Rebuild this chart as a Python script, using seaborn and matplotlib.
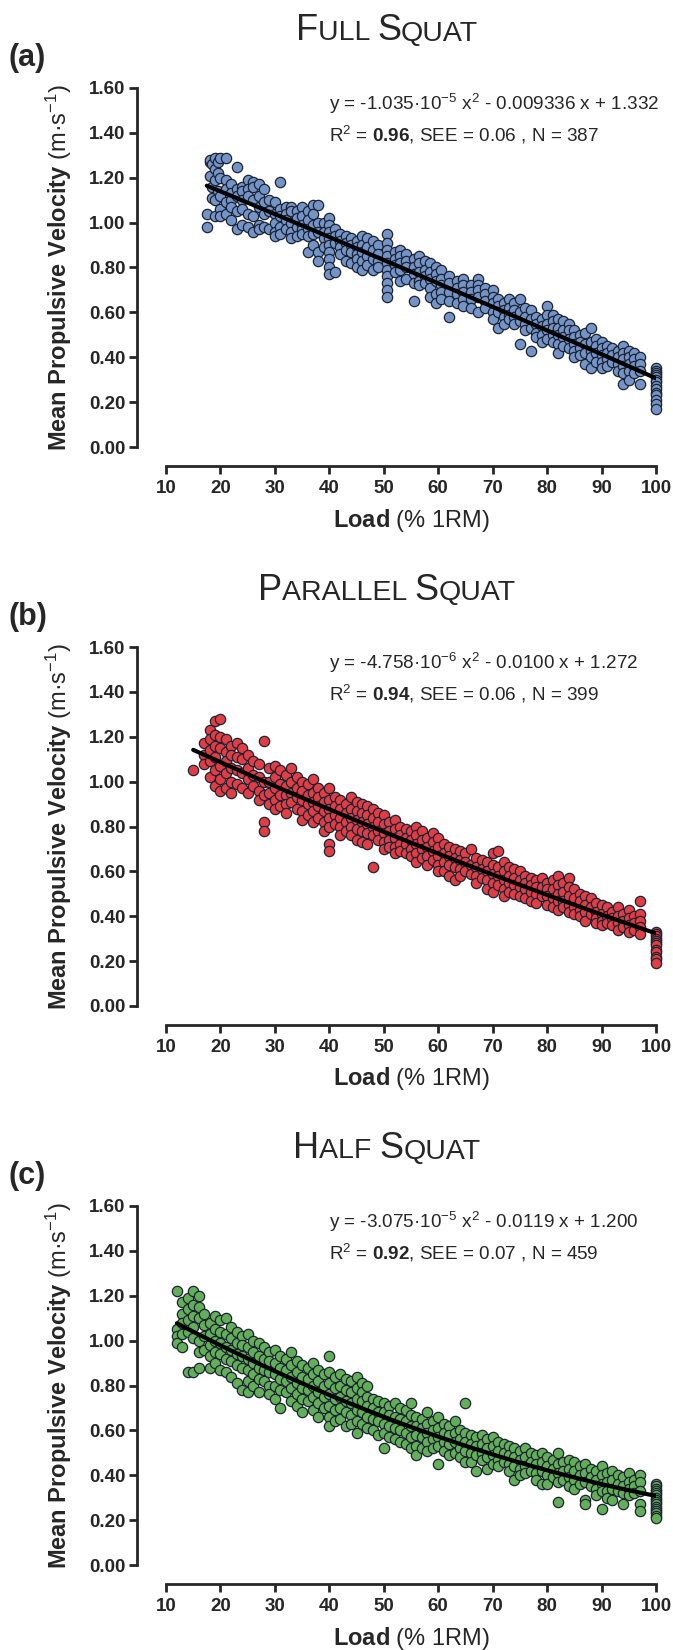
import numpy as np
import pandas as pd
import matplotlib
matplotlib.use("Agg")
import matplotlib.pyplot as plt
import seaborn as sns
from matplotlib.offsetbox import TextArea, HPacker, AnnotationBbox

# load (% 1RM) -> mean propulsive velocities
full_rows = [
    (17.5, [1.04, 0.98]), (18.0, [1.27, 1.28, 1.21]), (18.5, [1.26, 1.16, 1.11]),
    (19.0, [1.29, 1.24, 1.19, 1.10, 1.03]), (19.5, [1.27, 1.22, 1.14]),
    (20.0, [1.29, 1.20, 1.12, 1.06, 1.03]), (21.0, [1.29, 1.19, 1.15, 1.09, 1.04]),
    (22.0, [1.17, 1.13, 1.10, 1.07, 1.01]), (23.0, [1.25, 1.15, 1.12, 1.05, 0.97]),
    (24.0, [1.16, 1.14, 1.10, 1.06, 0.99]), (25.0, [1.19, 1.15, 1.12, 1.04, 0.98]),
    (26.0, [1.18, 1.16, 1.10, 1.03, 0.96]), (27.0, [1.17, 1.12, 1.07, 0.99, 0.97]),
    (28.0, [1.15, 1.09, 1.04, 0.98]), (29.0, [1.10, 1.05, 0.97]),
    (30.0, [1.09, 1.04, 1.00, 0.96, 0.94]), (31.0, [1.18, 1.06, 1.03, 0.98, 0.95]),
    (32.0, [1.07, 1.04, 1.01, 0.97]), (33.0, [1.07, 1.05, 1.00, 0.96, 0.93]),
    (34.0, [1.05, 1.02, 0.98, 0.94]), (35.0, [1.07, 1.03, 0.99, 0.97, 0.95]),
    (36.0, [1.05, 1.01, 0.97, 0.94, 0.87]), (37.0, [1.08, 1.04, 0.99, 0.95, 0.90]),
    (38.0, [1.08, 1.00, 0.96, 0.87, 0.83]), (39.0, [1.00, 0.96, 0.93, 0.89]),
    (40.0, [1.02, 0.99, 0.96, 0.93, 0.90, 0.87, 0.84, 0.80, 0.77]),
    (41.0, [0.97, 0.94, 0.91, 0.78]), (42.0, [0.95, 0.92, 0.89, 0.86]),
    (43.0, [0.94, 0.91, 0.88, 0.83]), (44.0, [0.93, 0.90, 0.87, 0.82]),
    (45.0, [0.92, 0.89, 0.86, 0.84, 0.80]), (46.0, [0.94, 0.90, 0.87, 0.83, 0.79]),
    (47.0, [0.93, 0.89, 0.85, 0.81]), (48.0, [0.92, 0.88, 0.84, 0.79]),
    (49.0, [0.90, 0.86, 0.83, 0.80]),
    (50.5, [0.95, 0.91, 0.88, 0.85, 0.82, 0.79, 0.76, 0.73, 0.70, 0.67]),
    (52.0, [0.87, 0.84, 0.81, 0.78]), (53.0, [0.88, 0.85, 0.82, 0.79, 0.74]),
    (54.0, [0.86, 0.83, 0.80, 0.75]), (55.5, [0.84, 0.80, 0.77, 0.73, 0.65]),
    (56.5, [0.85, 0.82, 0.78, 0.74, 0.72]), (57.5, [0.83, 0.79, 0.76, 0.73]),
    (58.5, [0.82, 0.78, 0.75, 0.71, 0.67]), (59.5, [0.80, 0.77, 0.74, 0.68, 0.64]),
    (60.5, [0.79, 0.75, 0.72, 0.69, 0.66]), (62.0, [0.76, 0.73, 0.69, 0.65, 0.58]),
    (63.5, [0.74, 0.71, 0.68, 0.64]), (64.5, [0.75, 0.72, 0.69, 0.66, 0.63]),
    (66.0, [0.72, 0.69, 0.66, 0.62]), (67.3, [0.75, 0.72, 0.70, 0.67, 0.60]),
    (68.5, [0.71, 0.68, 0.65, 0.62]), (70.0, [0.70, 0.67, 0.64, 0.60, 0.57]),
    (71.0, [0.66, 0.63, 0.60, 0.53]), (72.0, [0.64, 0.61, 0.58, 0.55]),
    (73.0, [0.66, 0.62, 0.59, 0.57]), (74.0, [0.64, 0.61, 0.58, 0.55]),
    (75.0, [0.66, 0.60, 0.56, 0.46]), (76.0, [0.62, 0.58, 0.55, 0.52]),
    (77.0, [0.61, 0.57, 0.53, 0.43]), (78.0, [0.58, 0.55, 0.51, 0.49]),
    (79.0, [0.57, 0.54, 0.50, 0.47]), (80.0, [0.63, 0.59, 0.55, 0.52, 0.48]),
    (81.0, [0.59, 0.56, 0.53, 0.50, 0.47]), (82.0, [0.57, 0.53, 0.50, 0.46, 0.42]),
    (83.0, [0.56, 0.52, 0.49, 0.45]), (84.0, [0.55, 0.52, 0.48, 0.44]),
    (85.0, [0.52, 0.49, 0.46, 0.43, 0.40]), (86.0, [0.50, 0.47, 0.44, 0.41]),
    (87.0, [0.51, 0.46, 0.42, 0.37]), (88.0, [0.53, 0.47, 0.43, 0.40, 0.35]),
    (89.0, [0.48, 0.45, 0.42, 0.38]), (90.0, [0.47, 0.44, 0.41, 0.38, 0.35]),
    (91.0, [0.45, 0.42, 0.39, 0.36]), (92.0, [0.44, 0.41, 0.38]),
    (93.0, [0.43, 0.40, 0.37, 0.34]), (94.0, [0.45, 0.42, 0.39, 0.36, 0.33, 0.28]),
    (95.0, [0.43, 0.40, 0.37, 0.34, 0.30]), (96.0, [0.42, 0.39, 0.36, 0.33]),
    (97.0, [0.40, 0.37, 0.34, 0.28]),
    (100.0, [0.35, 0.34, 0.33, 0.32, 0.31, 0.30, 0.29, 0.27, 0.26, 0.24, 0.23, 0.21, 0.19, 0.17]),
]

parallel_rows = [
    (15.0, [1.05]), (17.0, [1.17, 1.12, 1.08]), (18.0, [1.23, 1.19, 1.14, 1.09, 1.02]),
    (19.0, [1.27, 1.21, 1.16, 1.11, 1.05, 0.98]), (20.0, [1.28, 1.20, 1.15, 1.07, 1.01, 0.96]),
    (21.0, [1.19, 1.13, 1.09, 1.04, 0.97]), (22.0, [1.16, 1.12, 1.06, 1.00, 0.95]),
    (23.0, [1.17, 1.11, 1.05, 0.99]), (24.0, [1.15, 1.10, 1.04, 0.97]),
    (25.0, [1.12, 1.06, 1.01, 0.95]), (26.0, [1.09, 1.03, 0.98]),
    (27.0, [1.08, 1.02, 0.96, 0.92]), (28.0, [1.18, 1.00, 0.94, 0.82, 0.78]),
    (29.0, [1.06, 1.00, 0.95, 0.90]), (30.0, [1.07, 1.02, 0.97, 0.92, 0.88]),
    (31.0, [1.05, 0.99, 0.94, 0.89]), (32.0, [1.03, 0.98, 0.94, 0.90, 0.86]),
    (33.0, [1.06, 1.00, 0.95, 0.91]), (34.0, [1.02, 0.97, 0.93, 0.88]),
    (35.0, [1.00, 0.96, 0.92, 0.87, 0.83]), (36.0, [0.99, 0.94, 0.90, 0.85]),
    (37.0, [1.01, 0.95, 0.91, 0.87, 0.82]), (38.0, [0.97, 0.93, 0.89, 0.84]),
    (39.0, [0.95, 0.91, 0.87, 0.82, 0.78]), (40.0, [0.97, 0.92, 0.88, 0.84, 0.80, 0.72, 0.69]),
    (41.0, [0.93, 0.89, 0.85, 0.81]), (42.0, [0.92, 0.88, 0.84, 0.80, 0.76]),
    (43.0, [0.90, 0.86, 0.82, 0.78]), (44.0, [0.93, 0.88, 0.84, 0.80, 0.76]),
    (45.0, [0.91, 0.87, 0.83, 0.79, 0.74]), (46.0, [0.90, 0.86, 0.82, 0.78, 0.73]),
    (47.0, [0.89, 0.85, 0.81, 0.77, 0.72]), (48.0, [0.88, 0.84, 0.80, 0.76, 0.62]),
    (49.0, [0.86, 0.82, 0.78, 0.74]), (50.0, [0.85, 0.81, 0.77, 0.73, 0.70]),
    (51.0, [0.82, 0.78, 0.74, 0.71]), (52.0, [0.83, 0.79, 0.75, 0.71, 0.68]),
    (53.0, [0.80, 0.76, 0.72, 0.69]), (54.0, [0.79, 0.75, 0.72, 0.68]),
    (55.0, [0.78, 0.74, 0.70, 0.67]), (56.0, [0.80, 0.76, 0.72, 0.68, 0.64]),
    (57.0, [0.78, 0.74, 0.70, 0.66]), (58.0, [0.75, 0.71, 0.67, 0.63]),
    (59.0, [0.77, 0.73, 0.69, 0.65]), (60.0, [0.75, 0.71, 0.67, 0.63, 0.60]),
    (61.0, [0.72, 0.68, 0.64, 0.60]), (62.0, [0.71, 0.67, 0.63, 0.58]),
    (63.0, [0.70, 0.66, 0.62, 0.56]), (64.0, [0.69, 0.65, 0.61, 0.58]),
    (65.0, [0.68, 0.64, 0.60]), (66.0, [0.70, 0.63, 0.59]),
    (67.0, [0.66, 0.62, 0.58, 0.55]), (68.0, [0.65, 0.61, 0.57]),
    (69.0, [0.64, 0.60, 0.56, 0.52]), (70.0, [0.68, 0.63, 0.59, 0.55, 0.51]),
    (71.0, [0.69, 0.62, 0.58, 0.54]), (72.0, [0.64, 0.60, 0.56, 0.52, 0.49]),
    (73.0, [0.62, 0.58, 0.55, 0.51]), (74.0, [0.61, 0.57, 0.54, 0.50]),
    (75.0, [0.60, 0.56, 0.53, 0.49]), (76.0, [0.58, 0.55, 0.52, 0.48]),
    (77.0, [0.57, 0.54, 0.51, 0.47]), (78.0, [0.56, 0.53, 0.50, 0.46]),
    (79.0, [0.57, 0.53, 0.49]), (80.0, [0.55, 0.52, 0.49, 0.45]),
    (81.0, [0.56, 0.52, 0.48, 0.44]), (82.0, [0.58, 0.54, 0.50, 0.47, 0.43]),
    (83.0, [0.55, 0.51, 0.47, 0.44]), (84.0, [0.57, 0.53, 0.49, 0.45, 0.42]),
    (85.0, [0.52, 0.48, 0.44, 0.41]), (86.0, [0.50, 0.47, 0.43, 0.40]),
    (87.0, [0.49, 0.45, 0.42, 0.38]), (88.0, [0.48, 0.44, 0.41]),
    (89.0, [0.46, 0.42, 0.39, 0.37]), (90.0, [0.45, 0.41, 0.38, 0.36]),
    (91.0, [0.44, 0.40, 0.37]), (92.0, [0.42, 0.39, 0.36]),
    (93.0, [0.44, 0.40, 0.37, 0.34]), (94.0, [0.41, 0.38, 0.35]),
    (95.0, [0.43, 0.39, 0.36, 0.33]), (96.0, [0.40, 0.37, 0.34]),
    (97.0, [0.47, 0.41, 0.38, 0.35, 0.32]),
    (100.0, [0.33, 0.32, 0.31, 0.30, 0.29, 0.28, 0.27, 0.25, 0.24, 0.22, 0.21, 0.19]),
]

half_rows = [
    (12.0, [1.22, 1.05, 1.02, 0.99]), (13.0, [1.17, 1.12, 1.08, 1.03, 0.97]),
    (14.0, [1.19, 1.14, 1.09, 1.04, 0.86]), (15.0, [1.22, 1.16, 1.11, 1.06, 1.01, 0.86]),
    (16.0, [1.20, 1.15, 1.10, 1.00, 0.95, 0.88]), (17.0, [1.12, 1.07, 1.02, 0.96]),
    (18.0, [1.08, 1.03, 0.98, 0.93, 0.88]), (19.0, [1.11, 1.05, 1.00, 0.95, 0.90]),
    (20.0, [1.09, 1.04, 0.99, 0.94, 0.87]), (21.0, [1.10, 1.03, 0.97, 0.92, 0.86]),
    (22.0, [1.06, 1.01, 0.96, 0.91, 0.84]), (23.0, [1.04, 0.99, 0.94, 0.89, 0.81]),
    (24.0, [1.02, 0.98, 0.93, 0.88, 0.78]), (25.0, [1.03, 0.97, 0.92, 0.87, 0.82, 0.77]),
    (26.0, [1.00, 0.95, 0.90, 0.85, 0.80]), (27.0, [0.99, 0.93, 0.88, 0.83, 0.77]),
    (28.0, [0.97, 0.92, 0.87, 0.82]), (29.0, [0.95, 0.91, 0.86, 0.80, 0.76]),
    (30.0, [0.96, 0.90, 0.85, 0.80, 0.74]), (31.0, [0.93, 0.88, 0.83, 0.78, 0.70]),
    (32.0, [0.92, 0.87, 0.82, 0.77]), (33.0, [0.95, 0.89, 0.84, 0.79, 0.73]),
    (34.0, [0.91, 0.86, 0.81, 0.76, 0.71]), (35.0, [0.89, 0.84, 0.79, 0.74, 0.68]),
    (36.0, [0.88, 0.83, 0.78, 0.73]), (37.0, [0.90, 0.85, 0.80, 0.75, 0.69]),
    (38.0, [0.87, 0.82, 0.77, 0.72, 0.66]), (39.0, [0.85, 0.80, 0.75, 0.70]),
    (40.0, [0.93, 0.86, 0.81, 0.76, 0.71, 0.66, 0.62]), (41.0, [0.84, 0.79, 0.74, 0.69, 0.64]),
    (42.0, [0.85, 0.80, 0.75, 0.70, 0.65]), (43.0, [0.83, 0.78, 0.73, 0.68, 0.62]),
    (44.0, [0.82, 0.77, 0.72, 0.67, 0.63]), (45.0, [0.84, 0.79, 0.74, 0.69, 0.64, 0.59]),
    (46.0, [0.81, 0.77, 0.73, 0.68, 0.63]), (47.0, [0.80, 0.75, 0.71, 0.66, 0.61]),
    (48.0, [0.74, 0.70, 0.65, 0.60]), (49.0, [0.73, 0.68, 0.64, 0.58]),
    (50.0, [0.72, 0.68, 0.63, 0.59, 0.52]), (51.0, [0.71, 0.67, 0.62, 0.57]),
    (52.0, [0.72, 0.66, 0.61, 0.56]), (53.0, [0.70, 0.65, 0.60, 0.55]),
    (54.0, [0.69, 0.64, 0.59, 0.54]), (55.0, [0.72, 0.67, 0.62, 0.57, 0.52]),
    (56.0, [0.66, 0.62, 0.58, 0.53, 0.49]), (57.0, [0.65, 0.61, 0.57, 0.52]),
    (58.0, [0.68, 0.63, 0.59, 0.55, 0.51]), (59.0, [0.64, 0.60, 0.56, 0.52]),
    (60.0, [0.66, 0.61, 0.57, 0.53, 0.45]), (61.0, [0.63, 0.59, 0.55, 0.51]),
    (62.0, [0.62, 0.58, 0.54, 0.49]), (63.0, [0.64, 0.59, 0.55, 0.50]),
    (64.0, [0.60, 0.56, 0.52, 0.48]), (65.0, [0.72, 0.59, 0.55, 0.51, 0.46]),
    (66.0, [0.58, 0.54, 0.50, 0.46]), (67.0, [0.57, 0.53, 0.49, 0.42]),
    (68.0, [0.58, 0.54, 0.50, 0.47]), (69.0, [0.56, 0.52, 0.48, 0.43]),
    (70.0, [0.57, 0.53, 0.49, 0.45]), (71.0, [0.55, 0.51, 0.47, 0.44]),
    (72.0, [0.54, 0.50, 0.46]), (73.0, [0.53, 0.49, 0.45, 0.42]),
    (74.0, [0.52, 0.48, 0.44, 0.38]), (75.0, [0.51, 0.47, 0.43, 0.40]),
    (76.0, [0.52, 0.48, 0.44, 0.41]), (77.0, [0.50, 0.46, 0.42]),
    (78.0, [0.49, 0.45, 0.41, 0.38]), (79.0, [0.50, 0.46, 0.42, 0.36]),
    (80.0, [0.48, 0.44, 0.40, 0.36]), (81.0, [0.47, 0.43, 0.39]),
    (82.0, [0.50, 0.45, 0.41, 0.37, 0.28]), (83.0, [0.46, 0.42, 0.38]),
    (84.0, [0.47, 0.43, 0.39, 0.35]), (85.0, [0.46, 0.42, 0.38, 0.34]),
    (86.0, [0.44, 0.40, 0.36]), (87.0, [0.45, 0.41, 0.37, 0.29, 0.27]),
    (88.0, [0.43, 0.39, 0.35]), (89.0, [0.42, 0.38, 0.34, 0.31]),
    (90.0, [0.44, 0.40, 0.36, 0.33, 0.25]), (91.0, [0.41, 0.37, 0.33, 0.30]),
    (92.0, [0.42, 0.38, 0.34, 0.29]), (93.0, [0.40, 0.36, 0.33]),
    (94.0, [0.39, 0.35, 0.32, 0.27]), (95.0, [0.41, 0.37, 0.34, 0.31]),
    (96.0, [0.38, 0.35, 0.32]), (97.0, [0.40, 0.37, 0.33, 0.27, 0.24]),
    (100.0, [0.36, 0.35, 0.34, 0.33, 0.32, 0.31, 0.30, 0.29, 0.28, 0.27, 0.26, 0.25, 0.24, 0.23, 0.22, 0.21]),
]

titles = [("F", "ULL "), ("S", "QUAT")], [("P", "ARALLEL "), ("S", "QUAT")], [("H", "ALF "), ("S", "QUAT")]
panel_tags = ["(a)", "(b)", "(c)"]
colors = ["#7494C8", "#E03E44", "#63AE58"]
equations = [
    r"y = -1.035·10$^{-5}$ x$^{2}$ - 0.009336 x + 1.332",
    r"y = -4.758·10$^{-6}$ x$^{2}$ - 0.0100 x + 1.272",
    r"y = -3.075·10$^{-5}$ x$^{2}$ - 0.0119 x + 1.200",
]
fit_stats = [
    r"R$^{2}$ = $\mathbf{0.96}$, SEE = 0.06 , N = 387",
    r"R$^{2}$ = $\mathbf{0.94}$, SEE = 0.06 , N = 399",
    r"R$^{2}$ = $\mathbf{0.92}$, SEE = 0.07 , N = 459",
]
x_ticks = [10, 20, 30, 40, 50, 60, 70, 80, 90, 100]
y_ticks = [0.0, 0.2, 0.4, 0.6, 0.8, 1.0, 1.2, 1.4, 1.6]
y_tick_labels = ["0.00", "0.20", "0.40", "0.60", "0.80", "1.00", "1.20", "1.40", "1.60"]


def expand(rows):
    load = [x for x, ys in rows for _ in ys]
    mpv = [y for _, ys in rows for y in ys]
    return pd.DataFrame({"load": load, "mpv": mpv})


sns.set_style("ticks")
plt.rcParams["font.family"] = ["Liberation Sans", "DejaVu Sans"]
plt.rcParams["mathtext.fontset"] = "custom"
plt.rcParams["mathtext.rm"] = "Liberation Sans"
plt.rcParams["mathtext.bf"] = "Liberation Sans:bold"
plt.rcParams["mathtext.it"] = "Liberation Sans:italic"
plt.rcParams["mathtext.default"] = "regular"

W, H = 673, 1650
fig = plt.figure(figsize=(W / 100, H / 100), dpi=100)

datasets = [expand(full_rows), expand(parallel_rows), expand(half_rows)]
shift = [0, 559, 1118]

for i, df in enumerate(datasets):
    off = shift[i]
    # plot area in pixels: x 166..656, y 88..447 (+ offset)
    ax = fig.add_axes([166 / W, (H - 447 - off) / H, 490 / W, 359 / H])
    sns.regplot(
        data=df, x="load", y="mpv", order=2, ci=None, ax=ax,
        color=colors[i],
        scatter_kws={"s": 55, "alpha": 1, "edgecolor": "#1c2433",
                     "linewidths": 0.9, "clip_on": False, "zorder": 2},
        line_kws={"color": "black", "lw": 3, "zorder": 3},
    )
    ax.set_xlim(10, 100)
    ax.set_ylim(0, 1.6)
    ax.set_xticks(x_ticks)
    ax.set_yticks(y_ticks)
    ax.set_yticklabels(y_tick_labels)
    ax.set_xlabel("")
    ax.set_ylabel("")
    ax.spines[["top", "right"]].set_visible(False)
    ax.spines["left"].set_position(("outward", 21))
    ax.spines["bottom"].set_position(("outward", 14))
    ax.spines["left"].set_bounds(0, 1.6)
    ax.spines["bottom"].set_bounds(10, 100)
    for s in ["left", "bottom"]:
        ax.spines[s].set_linewidth(2)
    ax.tick_params(axis="both", width=2, length=6, labelsize=13.5, pad=2)
    ax.tick_params(axis="x", pad=4)
    for lab in ax.get_xticklabels() + ax.get_yticklabels():
        lab.set_fontweight("bold")

    ax.text(40, 1.53, equations[i], fontsize=13.6, va="center", ha="left")
    ax.text(40, 1.39, fit_stats[i], fontsize=13.6, va="center", ha="left")

    # y label, x label
    fig.text(59 / W, 1 - (267.5 + off) / H,
             r"$\mathbf{Mean\ Propulsive\ Velocity}$ (m·s$^{-1}$)",
             rotation=90, ha="center", va="center", fontsize=17)
    fig.text(411 / W, 1 - (520 + off) / H, r"$\mathbf{Load}$ (% 1RM)",
             ha="center", va="center", fontsize=17)

    # panel tag
    fig.text(8 / W, 1 - (58 + off) / H, panel_tags[i], ha="left", va="center",
             fontsize=22, fontweight="bold")

    # small caps title
    parts = []
    for big, small in titles[i]:
        parts.append(TextArea(big, textprops={"fontsize": 26}))
        parts.append(TextArea(small, textprops={"fontsize": 20.5}))
    box = HPacker(children=parts, align="baseline", pad=0, sep=0)
    ab = AnnotationBbox(box, (387 / W, 1 - (31 + off) / H), xycoords="figure fraction",
                        frameon=False, box_alignment=(0.5, 0.5), pad=0)
    fig.add_artist(ab)

fig.savefig("out.png", dpi=100)
